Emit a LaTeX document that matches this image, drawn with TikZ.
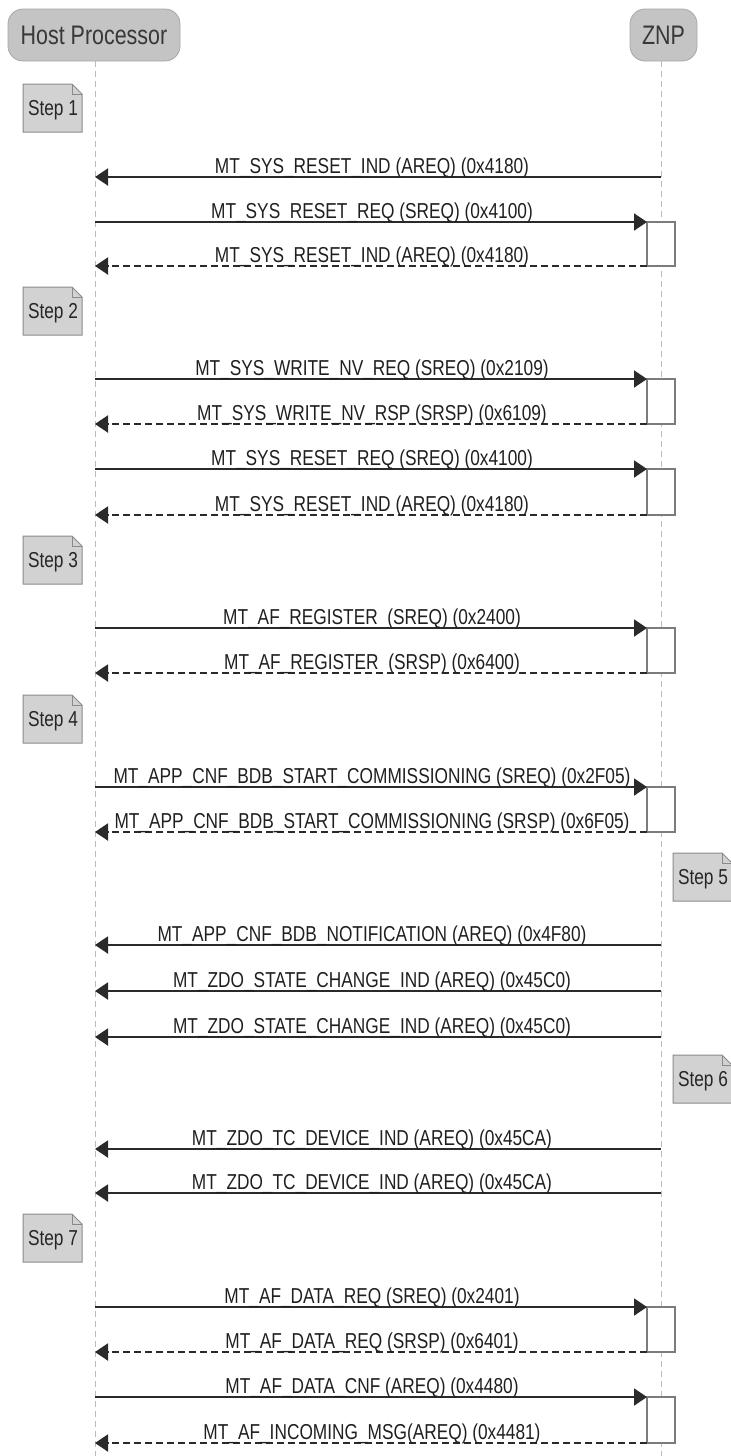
\documentclass[tikz,border=0pt]{standalone}
\usepackage{fontspec}
\setmainfont{Liberation Sans}[FakeStretch=0.8]
\usetikzlibrary{arrows.meta}

\definecolor{hdrfill}{HTML}{C4C4C4}
\definecolor{hdrtext}{HTML}{383838}
\definecolor{notefill}{HTML}{D2D2D2}
\definecolor{noteline}{HTML}{8A8A8A}
\definecolor{lifegray}{HTML}{BBBBBB}
\definecolor{msgline}{HTML}{2A2A2A}
\definecolor{boxline}{HTML}{7C7C7C}

\tikzset{
  actor/.style={fill=hdrfill, draw=hdrfill!85!black, line width=0.4pt,
    rounded corners=7.5pt, text=hdrtext, inner sep=0pt, outer sep=0pt,
    font=\fontsize{13.4}{15}\selectfont},
  lifeline/.style={draw=lifegray, line width=0.5pt, dash pattern=on 3pt off 2pt},
  msg/.style={draw=msgline, line width=1pt,
    -{Triangle[length=6.5pt,width=8.5pt]}},
  reply/.style={msg, dash pattern=on 3.5pt off 2pt},
  lbl/.style={anchor=base, inner sep=0pt, text=black!88,
    font=\fontsize{10.8}{12}\selectfont},
  actbox/.style={draw=boxline, fill=white, line width=0.6pt, inner sep=0pt,
    outer sep=0pt, anchor=north west, minimum width=14pt},
  notebody/.style={fill=notefill, draw=noteline, line width=0.5pt, line join=miter},
  notetext/.style={inner sep=0pt, text=black!85, font=\fontsize{10.8}{12}\selectfont},
}

% ZNP -> host, solid
\newcommand\msgin[3]{%
  \coordinate (z#1) at (661,#2);
  \coordinate (h#1) at (95,#2);
  \draw[msg] (z#1) -- (h#1);
  \node[lbl] (l#1) at (372,#2-4) {#3};
}
% host -> ZNP request with activation box and dashed response
\newcommand\msgpair[5]{%
  \coordinate (hq#1) at (95,#2);
  \coordinate (hr#1) at (95,#4);
  \node[actbox, minimum height={(#4-#2)*0.5pt}] (a#1) at (647,#2) {};
  \draw[msg] (hq#1) -- (a#1.north west);
  \draw[reply] (a#1.south west) -- (hr#1);
  \node[lbl] (lq#1) at (372,#2-4) {#3};
  \node[lbl] (lr#1) at (372,#4-4) {#5};
}
% folded-corner step note, top-left corner at (#2,#3)
\newcommand\stepnote[4]{%
  \draw[notebody] (#2,#3+48) -- (#2,#3) -- (#2+49,#3) -- (#2+59,#3+10)
    -- (#2+59,#3+48) -- cycle;
  \draw[notebody, fill=none] (#2+49,#3) -- (#2+49,#3+10) -- (#2+59,#3+10);
  \node[notetext] (#1) at (#2+30,#3+26) {#4};
}

\begin{document}
\begin{tikzpicture}[x=0.5pt, y=-0.5pt]
  \path[use as bounding box] (0,0) rectangle (731,1456);
  \clip (0,0) rectangle (731,1456);

  % participants
  \node[actor, minimum width=86pt, minimum height=26pt, anchor=north west]
    (host) at (8,9) {Host Processor};
  \node[actor, minimum width=33.5pt, minimum height=26pt, anchor=north west]
    (znp) at (630,9) {ZNP};
  \coordinate (hostend) at (95,1456);
  \coordinate (znpend) at (661,1456);
  \draw[lifeline] (host.south -| hostend) -- (hostend);
  \draw[lifeline] (znp.south -| znpend) -- (znpend);

  % step 1
  \stepnote{s1}{23}{84}{Step 1}
  \msgin{1}{177}{MT\_SYS\_RESET\_IND (AREQ) (0x4180)}
  \msgpair{1}{222}{MT\_SYS\_RESET\_REQ (SREQ) (0x4100)}{266}{MT\_SYS\_RESET\_IND (AREQ) (0x4180)}

  % step 2
  \stepnote{s2}{23}{287}{Step 2}
  \msgpair{2}{379}{MT\_SYS\_WRITE\_NV\_REQ (SREQ) (0x2109)}{424}{MT\_SYS\_WRITE\_NV\_RSP (SRSP) (0x6109)}
  \msgpair{3}{469}{MT\_SYS\_RESET\_REQ (SREQ) (0x4100)}{515}{MT\_SYS\_RESET\_IND (AREQ) (0x4180)}

  % step 3
  \stepnote{s3}{23}{536}{Step 3}
  \msgpair{4}{628}{MT\_AF\_REGISTER\ \ (SREQ) (0x2400)}{673}{MT\_AF\_REGISTER\ \ (SRSP) (0x6400)}

  % step 4
  \stepnote{s4}{23}{695}{Step 4}
  \msgpair{5}{787}{MT\_APP\_CNF\_BDB\_START\_COMMISSIONING (SREQ) (0x2F05)}{832}{MT\_APP\_CNF\_BDB\_START\_COMMISSIONING (SRSP) (0x6F05)}

  % step 5
  \stepnote{s5}{673}{853}{Step 5}
  \msgin{2}{945}{MT\_APP\_CNF\_BDB\_NOTIFICATION (AREQ) (0x4F80)}
  \msgin{3}{991}{MT\_ZDO\_STATE\_CHANGE\_IND (AREQ) (0x45C0)}
  \msgin{4}{1037}{MT\_ZDO\_STATE\_CHANGE\_IND (AREQ) (0x45C0)}

  % step 6
  \stepnote{s6}{673}{1055}{Step 6}
  \msgin{5}{1149}{MT\_ZDO\_TC\_DEVICE\_IND (AREQ) (0x45CA)}
  \msgin{6}{1193}{MT\_ZDO\_TC\_DEVICE\_IND (AREQ) (0x45CA)}

  % step 7
  \stepnote{s7}{23}{1214}{Step 7}
  \msgpair{6}{1307}{MT\_AF\_DATA\_REQ (SREQ) (0x2401)}{1352}{MT\_AF\_DATA\_REQ (SRSP) (0x6401)}
  \msgpair{7}{1397}{MT\_AF\_DATA\_CNF (AREQ) (0x4480)}{1443}{MT\_AF\_INCOMING\_MSG(AREQ) (0x4481)}
\end{tikzpicture}
\end{document}
